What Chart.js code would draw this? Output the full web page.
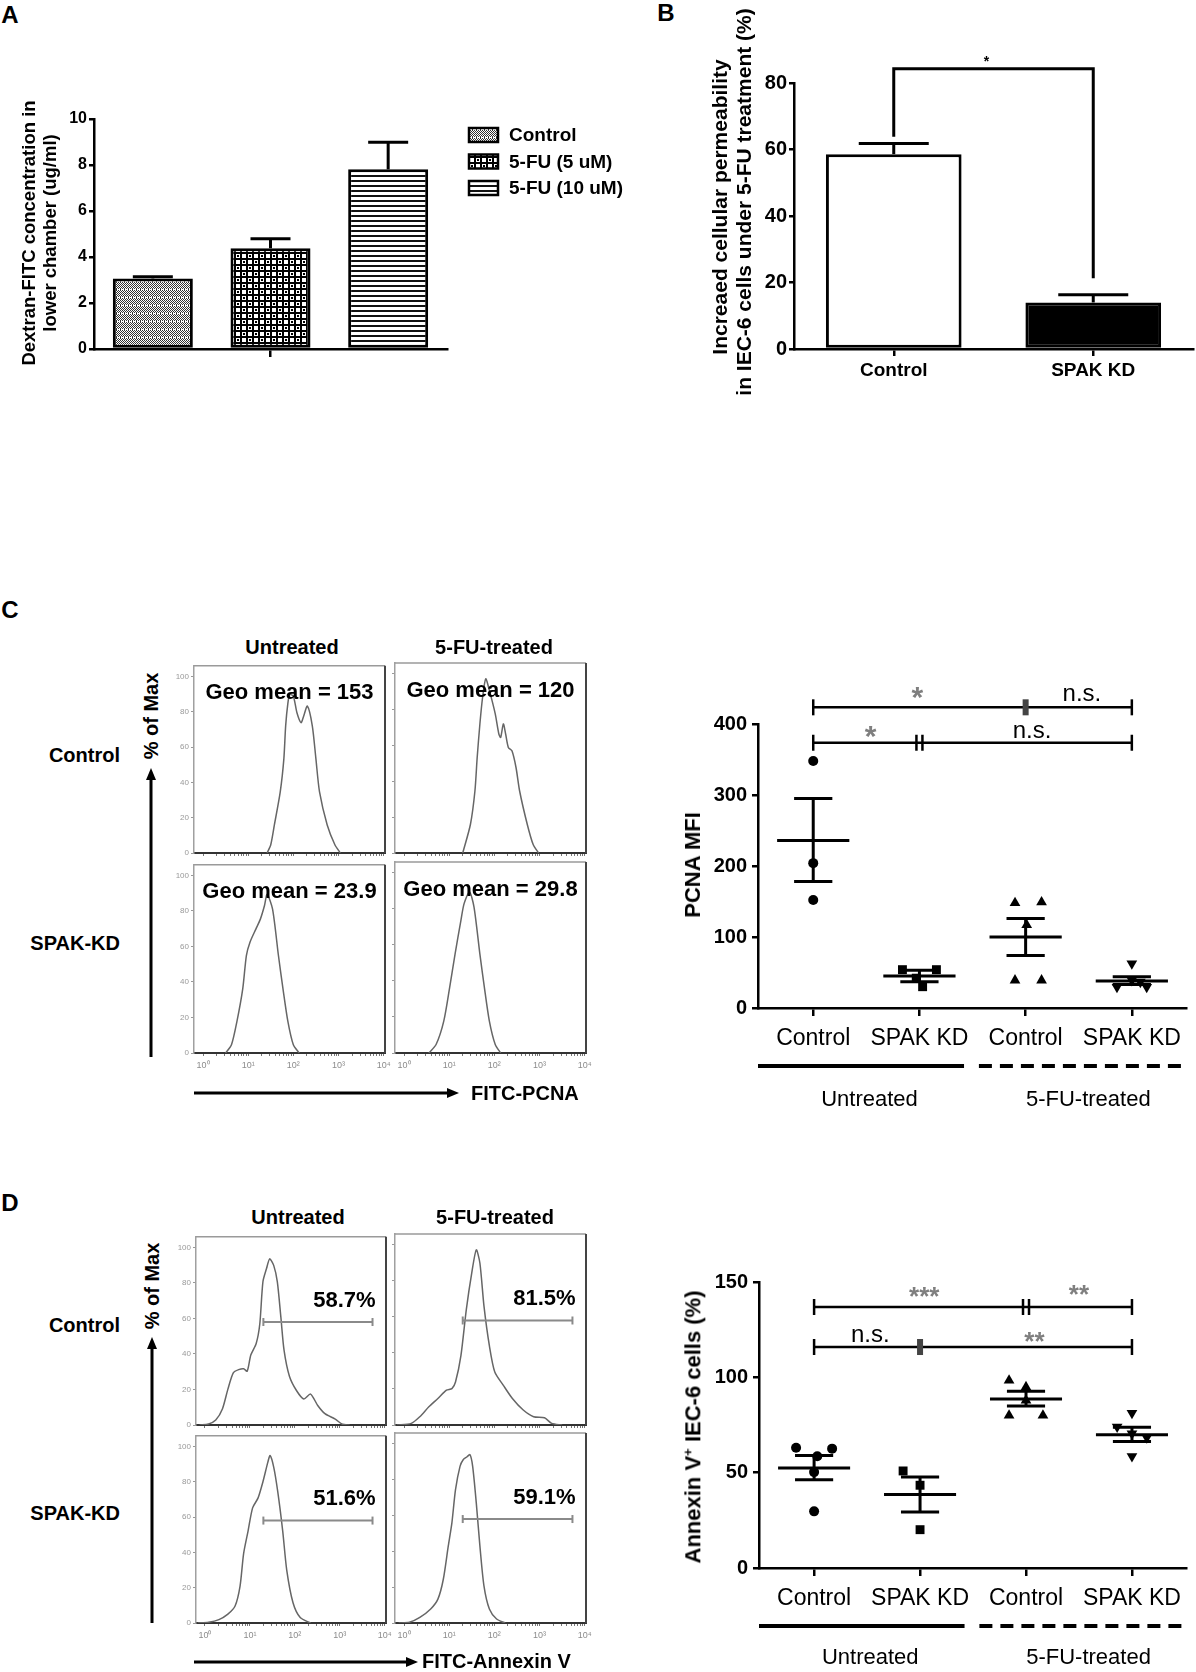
<!DOCTYPE html>
<html>
<head>
<meta charset="utf-8">
<script src="https://cdn.jsdelivr.net/npm/chart.js@4.4.1/dist/chart.umd.min.js"></script>
<style>
  body { margin: 0; background: #fff; }
  #fig { position: relative; width: 1196px; height: 1672px; overflow: hidden; background: #fff;
         font-family: "Liberation Sans", Arial, Helvetica, sans-serif; }
  #fig canvas { position: absolute; }
  .t { position: absolute; white-space: nowrap; line-height: 1; color: #000; }
</style>
</head>
<body>
<div id="fig"></div>
<script>
// figure panels A-D: permeability bars, PCNA / Annexin V flow histograms and dot plots

const FONT = '"Liberation Sans", Arial, Helvetica, sans-serif';

// ---------- A: Dextran-FITC ----------
const aGroups = ['Control', '5-FU (5 uM)', '5-FU (10 uM)'];
const aMeans = [3.07, 4.38, 7.81];
const aErrTop = [3.14, 4.79, 8.99];

// ---------- B: permeability ----------
const bGroups = ['Control', 'SPAK KD'];
const bMeans = [58.6, 14.0];
const bErrTop = [61.8, 16.3];
const bBracketTop = 84.3;
const bBracketFeet = [63.8, 21.3];
const bStarY = 87.5;

// ---------- C: PCNA histograms (x = log10 FITC, y = % of max) ----------
const histPcnaCtrlUntr = [[1.42,0],[1.5,4.7],[1.58,15.9],[1.71,34.6],[1.79,53.3],[1.83,72],[1.88,85],[1.92,89.7],[2.0,88.8],[2.08,79.4],[2.17,73.8],[2.23,77.6],[2.31,83.2],[2.42,72],[2.5,53.3],[2.58,34.6],[2.75,15.9],[2.92,4.7],[3.04,0]];
const histPcnaCtrl5fu = [[1.3,0],[1.47,15.9],[1.57,34.6],[1.62,53.3],[1.68,72],[1.74,86.9],[1.81,97.2],[1.89,90.7],[2.02,77.6],[2.1,66.4],[2.14,64.5],[2.2,72],[2.25,66.4],[2.31,58.9],[2.39,57],[2.48,47.7],[2.56,34.6],[2.73,15.9],[2.86,4.7],[2.98,0]];
const histPcnaKdUntr = [[0.5,0],[0.63,4.7],[0.75,17.7],[0.88,36.3],[0.96,54.9],[1.04,62.4],[1.17,69.8],[1.27,75.4],[1.36,82.9],[1.42,89.4],[1.54,81],[1.67,54.9],[1.77,36.3],[1.88,17.7],[2.0,4.7],[2.13,0]];
const histPcnaKd5fu = [[0.55,0],[0.71,4.7],[0.88,17.7],[1.01,36.3],[1.13,54.9],[1.26,73.6],[1.33,82.9],[1.45,89.4],[1.55,81],[1.68,54.9],[1.78,36.3],[1.89,17.7],[2.02,4.7],[2.14,0]];
const pcnaGeoMeans = ['Geo mean = 153', 'Geo mean = 120', 'Geo mean = 23.9', 'Geo mean = 29.8'];

// ---------- D: Annexin V histograms ----------
const histAnnexCtrlUntr = [[-0.12,0],[0.08,0.6],[0.24,2.8],[0.39,9.2],[0.51,20.2],[0.63,29.4],[0.75,31.2],[0.86,31.7],[0.94,30.3],[1.02,39.4],[1.14,45.9],[1.22,56.9],[1.29,80.7],[1.37,88.1],[1.44,93.6],[1.53,89.9],[1.61,80.7],[1.69,60.6],[1.76,42.2],[1.88,27.5],[2.04,19.3],[2.2,14.7],[2.35,17.4],[2.51,11],[2.67,6.4],[2.9,3.3],[3.06,0.4],[3.22,0]];
const histAnnexCtrl5fu = [[-0.16,0],[0.16,0.9],[0.35,4.6],[0.55,10.1],[0.75,14.7],[0.94,19.3],[1.06,20.2],[1.14,23.9],[1.26,38.5],[1.38,64.2],[1.5,84.4],[1.6,97.2],[1.68,89.9],[1.77,66.1],[1.89,44],[2.01,29.4],[2.2,22],[2.4,14.7],[2.64,8.3],[2.87,4.6],[3.11,4],[3.27,0.9],[3.5,0]];
const histAnnexKdUntr = [[-0.16,0],[0.08,0.4],[0.31,1.9],[0.51,5],[0.67,9.6],[0.78,20.7],[0.86,39.3],[0.96,52.2],[1.06,65.2],[1.18,70.7],[1.29,80],[1.4,91.1],[1.45,94.8],[1.53,88.3],[1.62,74.4],[1.73,52.2],[1.82,30],[1.96,11.5],[2.12,3.1],[2.35,0]];
const histAnnexKd5fu = [[-0.12,0],[0.12,0.4],[0.35,3.1],[0.59,7.8],[0.75,13.3],[0.87,24.4],[0.98,43],[1.06,55.9],[1.14,74.4],[1.24,87.4],[1.31,91.1],[1.39,92.6],[1.46,93.9],[1.52,87.4],[1.6,67],[1.68,43],[1.77,20.7],[1.89,7.8],[2.05,2.2],[2.24,0]];
const annexPercents = ['58.7%', '81.5%', '51.6%', '59.1%'];
const annexGate = [1.3, 3.73];
const annexGateY = 58;

// ---------- C / D dot plots ----------
const catLabels = ['Control', 'SPAK KD', 'Control', 'SPAK KD'];
const groupLabels = ['Untreated', '5-FU-treated'];

const pcnaDotsCtrlUntr = [[1,348],[1,204],[1,152]];
const pcnaDotsKdUntr = [[1.84,54],[2.16,54],[1.97,42],[2.03,30]];
const pcnaDotsCtrl5fu = [[2.9,148],[3.15,149],[3.01,117],[2.9,39],[3.15,39]];
const pcnaDotsKd5fu = [[4.0,62.5],[3.86,29.6],[4.14,29.6],[4.0,39],[4.08,36.7]];
const pcnaMean = [236, 45, 100, 38];
const pcnaSemHi = [295, 53, 126, 44];
const pcnaSemLo = [178, 37, 74, 33];
const pcnaBrackets = [{ y: 423.5, at: [1, 3, 4], sep: 'block' }, { y: 373.6, at: [1, 2, 4], sep: 'double' }];
const pcnaSig = [{ t: '*', x: 1.98, y: 448 }, { t: 'n.s.', x: 3.53, y: 441 }, { t: '*', x: 1.54, y: 394 }, { t: 'n.s.', x: 3.06, y: 389 }];

const annexDotsCtrlUntr = [[0.83,63.1],[1.17,62.6],[1.03,58.6],[1,50.3],[1,29.7]];
const annexDotsKdUntr = [[1.84,50.9],[2,43.4],[2,20.1]];
const annexDotsCtrl5fu = [[2.84,98.4],[3,94.9],[3,87.9],[2.84,80],[3.16,80]];
const annexDotsKd5fu = [[4,81.3],[3.86,74],[4,70.5],[4.14,68.4],[4,58.6]];
const annexMean = [52.4, 38.6, 88.6, 69.9];
const annexSemHi = [59, 47.7, 92.7, 73.8];
const annexSemLo = [46.3, 29.4, 85, 66.4];
const annexBrackets = [{ y: 136.9, at: [1, 3, 4], sep: 'double' }, { y: 115.9, at: [1, 2, 4], sep: 'block' }];
const annexSig = [{ t: '***', x: 2.04, y: 145.6 }, { t: '**', x: 3.5, y: 147 }, { t: 'n.s.', x: 1.53, y: 122 }, { t: '**', x: 3.08, y: 122.5 }];

// ---------- helpers ----------
const fig = document.getElementById('fig');

function addCanvas(x, y, w, h) {
  const c = document.createElement('canvas');
  c.width = w; c.height = h;
  c.style.left = x + 'px'; c.style.top = y + 'px';
  c.style.width = w + 'px'; c.style.height = h + 'px';
  fig.appendChild(c);
  return c;
}

function txt(s, x, y, o = {}) {
  const d = document.createElement('div');
  d.className = 't';
  d.innerHTML = s;
  d.style.left = x + 'px';
  d.style.top = y + 'px';
  d.style.fontSize = (o.size || 20) + 'px';
  d.style.fontWeight = o.weight || 'bold';
  const ax = o.align === 'right' ? '-100%' : o.align === 'left' ? '0' : '-50%';
  d.style.transform = `translate(${ax}, -50%)` + (o.rot ? ' rotate(-90deg)' : '');
  fig.appendChild(d);
}

const svgNS = 'http://www.w3.org/2000/svg';
const svg = document.createElementNS(svgNS, 'svg');
svg.setAttribute('width', 1196);
svg.setAttribute('height', 1672);
svg.style.position = 'absolute';
svg.style.left = '0';
svg.style.top = '0';
fig.appendChild(svg);

function arrow(x1, y1, x2, y2) {
  const a = Math.atan2(y2 - y1, x2 - x1), L = 12, W = 5;
  const bx = x2 - L * Math.cos(a), by = y2 - L * Math.sin(a);
  const ln = document.createElementNS(svgNS, 'line');
  ln.setAttribute('x1', x1); ln.setAttribute('y1', y1);
  ln.setAttribute('x2', bx); ln.setAttribute('y2', by);
  ln.setAttribute('stroke', '#000'); ln.setAttribute('stroke-width', 3);
  svg.appendChild(ln);
  const p = document.createElementNS(svgNS, 'polygon');
  p.setAttribute('points', `${x2},${y2} ${bx + W * Math.sin(a)},${by - W * Math.cos(a)} ${bx - W * Math.sin(a)},${by + W * Math.cos(a)}`);
  p.setAttribute('fill', '#000');
  svg.appendChild(p);
}

function seg(ctx, x1, y1, x2, y2) {
  ctx.beginPath(); ctx.moveTo(x1, y1); ctx.lineTo(x2, y2); ctx.stroke();
}

const axisGrid = (len) => ({ drawOnChartArea: false, tickLength: len, lineWidth: 2.5, color: '#000' });
const axisBorder = { color: '#000', width: 2.5 };
const baseOpts = { responsive: false, animation: false, devicePixelRatio: 1, events: [] };
const noPlug = { legend: { display: false }, tooltip: { enabled: false } };

// ---------- A ----------
const cA = addCanvas(0, 90, 640, 300);
const gA = cA.getContext('2d');
function tile(kind) {
  const c = document.createElement('canvas');
  const g = c.getContext('2d');
  if (kind === 0) {
    // fine grey weave with lighter dotted rows
    c.width = 4; c.height = 8;
    g.fillStyle = '#fff'; g.fillRect(0, 0, 4, 8);
    g.fillStyle = '#333';
    for (let yy = 0; yy < 7; yy++) for (let xx = 0; xx < 4; xx++) if ((xx + yy) % 2 === 0) g.fillRect(xx, yy, 1, 1);
    g.fillRect(0, 7, 1, 1);
  } else if (kind === 1) {
    // open grid with a dot in alternate cells
    c.width = 12; c.height = 12;
    g.fillStyle = '#fff'; g.fillRect(0, 0, 12, 12);
    g.fillStyle = '#000';
    g.fillRect(0, 0, 12, 2); g.fillRect(0, 6, 12, 2);
    g.fillRect(0, 0, 2, 12); g.fillRect(6, 0, 2, 12);
    g.fillRect(3, 3, 2, 2); g.fillRect(9, 9, 2, 2);
  } else {
    // horizontal stripes
    c.width = 4; c.height = 5;
    g.fillStyle = '#fff'; g.fillRect(0, 0, 4, 5);
    g.fillStyle = '#111'; g.fillRect(0, 0, 4, 2);
  }
  return gA.createPattern(c, 'repeat');
}
const aFills = [tile(0), tile(1), tile(2)];

const errBars = (means, tops, capW) => ({
  id: 'errBars',
  afterDatasetsDraw(chart) {
    const { ctx, scales: { x, y } } = chart;
    ctx.save();
    ctx.strokeStyle = '#000'; ctx.lineWidth = 3;
    means.forEach((m, i) => {
      const px = x.getPixelForValue(i);
      seg(ctx, px, y.getPixelForValue(m), px, y.getPixelForValue(tops[i]));
      seg(ctx, px - capW / 2, y.getPixelForValue(tops[i]), px + capW / 2, y.getPixelForValue(tops[i]));
    });
    ctx.restore();
  }
});

const aLegend = {
  id: 'aLegend',
  afterDraw(chart) {
    const ctx = chart.ctx;
    ctx.save();
    aGroups.forEach((g, i) => {
      const cy = 45 + i * 26.5;
      ctx.fillStyle = aFills[i];
      ctx.fillRect(469, cy - 7, 29, 14);
      ctx.strokeStyle = '#000'; ctx.lineWidth = 2.5;
      ctx.strokeRect(469, cy - 7, 29, 14);
      ctx.fillStyle = '#000';
      ctx.font = `bold 19px ${FONT}`;
      ctx.textBaseline = 'middle';
      ctx.fillText(g, 509, cy + 1);
    });
    ctx.restore();
  }
};

new Chart(cA, {
  type: 'bar',
  data: {
    labels: aGroups,
    datasets: [{ data: aMeans, backgroundColor: aFills, borderColor: '#000', borderWidth: 3,
                 borderSkipped: false, categoryPercentage: 0.8, barPercentage: 0.85 }]
  },
  options: {
    ...baseOpts,
    layout: { autoPadding: false, padding: { top: 29, right: 193 } },
    plugins: noPlug,
    scales: {
      x: {
        ticks: { display: false },
        grid: { offset: false, drawOnChartArea: false, tickLength: 8, lineWidth: 2.5,
                color: (c) => (c.index === 1 ? '#000' : 'rgba(0,0,0,0)') },
        border: axisBorder,
        afterFit: (s) => { s.height = 41; }
      },
      y: {
        min: 0, max: 10,
        ticks: { stepSize: 2, color: '#000', padding: 2, font: { family: FONT, size: 16, weight: 'bold' } },
        grid: axisGrid(5), border: axisBorder,
        afterFit: (s) => { s.width = 94; }
      }
    }
  },
  plugins: [errBars(aMeans, aErrTop, 40), aLegend]
});

// ---------- B ----------
const cB = addCanvas(640, 30, 556, 370);
const bBracket = {
  id: 'bBracket',
  afterDraw(chart) {
    const { ctx, scales: { x, y } } = chart;
    const x0 = x.getPixelForValue(0), x1 = x.getPixelForValue(1), top = y.getPixelForValue(bBracketTop);
    ctx.save();
    ctx.strokeStyle = '#000'; ctx.lineWidth = 3;
    ctx.beginPath();
    ctx.moveTo(x0, y.getPixelForValue(bBracketFeet[0]));
    ctx.lineTo(x0, top); ctx.lineTo(x1, top);
    ctx.lineTo(x1, y.getPixelForValue(bBracketFeet[1]));
    ctx.stroke();
    ctx.fillStyle = '#000';
    ctx.font = `bold 14px ${FONT}`;
    ctx.textAlign = 'center'; ctx.textBaseline = 'alphabetic';
    ctx.fillText('*', (x0 + x1) / 2 - 7, y.getPixelForValue(bStarY) + 8);
    ctx.restore();
  }
};
new Chart(cB, {
  type: 'bar',
  data: {
    labels: bGroups,
    datasets: [{ data: bMeans, backgroundColor: ['#fff', '#000'], borderColor: '#000', borderWidth: 3,
                 borderSkipped: false, categoryPercentage: 0.8, barPercentage: 0.85 }]
  },
  options: {
    ...baseOpts,
    layout: { autoPadding: false, padding: { top: 53, right: 3 } },
    plugins: noPlug,
    scales: {
      x: {
        ticks: { color: '#000', padding: 3, font: { family: FONT, size: 19, weight: 'bold' } },
        grid: { offset: false, drawOnChartArea: false, tickLength: 7, lineWidth: 2.5, color: '#000' },
        border: axisBorder,
        afterFit: (s) => { s.height = 51; }
      },
      y: {
        min: 0, max: 80,
        ticks: { stepSize: 20, color: '#000', padding: 2, font: { family: FONT, size: 20, weight: 'bold' } },
        grid: axisGrid(5), border: axisBorder,
        afterFit: (s) => { s.width = 154; }
      }
    }
  },
  plugins: [errBars(bMeans, bErrTop, 70), bBracket]
});

// ---------- flow histograms ----------
const sup = ['\u2070', '\u00b9', '\u00b2', '\u00b3', '\u2074'];
const decades = [0, 1, 2, 3, 4];
const logTicks = [];
for (let n = 0; n < 4; n++) for (let k = 1; k < 10; k++) logTicks.push(n + Math.log10(k));
logTicks.push(4);

function histChart(box, pts, o) {
  const [x0, y0, x1, y1] = box;
  const cv = addCanvas(x0 - 24, y0 - 4, x1 - x0 + 32, y1 - y0 + 28);
  const deco = {
    id: 'deco',
    afterDraw(chart) {
      const { ctx, chartArea: a, scales: { x, y } } = chart;
      ctx.save();
      ctx.strokeStyle = '#9a9a9a'; ctx.lineWidth = 1.5;
      seg(ctx, a.left, a.top, a.right, a.top);
      ctx.strokeStyle = '#444'; ctx.lineWidth = 2;
      seg(ctx, a.right, a.top, a.right, a.bottom);
      if (o.xLabels) {
        ctx.fillStyle = '#8c8c8c';
        ctx.font = `9px ${FONT}`;
        ctx.textAlign = 'center'; ctx.textBaseline = 'middle';
        decades.forEach((d) => ctx.fillText('10' + sup[d], x.getPixelForValue(d), a.bottom + 13));
      }
      ctx.fillStyle = '#000';
      ctx.font = `bold 22px ${FONT}`;
      ctx.textBaseline = 'middle';
      if (o.geo) {
        ctx.textAlign = 'center';
        ctx.fillText(o.geo, (a.left + a.right) / 2, y.getPixelForValue(90.5));
      }
      if (o.pct) {
        ctx.strokeStyle = '#8a8a8a'; ctx.lineWidth = 2;
        const gy = y.getPixelForValue(annexGateY);
        const g0 = x.getPixelForValue(annexGate[0]), g1 = x.getPixelForValue(annexGate[1]);
        seg(ctx, g0, gy, g1, gy);
        seg(ctx, g0, gy - 4, g0, gy + 4);
        seg(ctx, g1, gy - 4, g1, gy + 4);
        ctx.textAlign = 'right';
        ctx.fillText(o.pct, x.getPixelForValue(3.8), y.getPixelForValue(70));
      }
      ctx.restore();
    }
  };
  new Chart(cv, {
    type: 'line',
    data: { datasets: [{ data: pts.map((p) => ({ x: p[0], y: p[1] })), borderColor: '#666',
                         borderWidth: 1.5, pointRadius: 0, tension: 0.25, fill: false }] },
    options: {
      ...baseOpts,
      layout: { autoPadding: false, padding: { top: 4, right: 8 } },
      plugins: noPlug,
      scales: {
        x: {
          type: 'linear', min: -0.2, max: 4.03,
          afterBuildTicks: (s) => { s.ticks = logTicks.map((v) => ({ value: v })); },
          ticks: { display: false },
          grid: { drawOnChartArea: false, tickLength: 3, lineWidth: 1, color: '#777' },
          border: { color: '#333', width: 2 },
          afterFit: (s) => { s.height = 24; }
        },
        y: {
          min: 0, max: 106,
          afterBuildTicks: (s) => { s.ticks = [0, 20, 40, 60, 80, 100].map((v) => ({ value: v })); },
          ticks: { display: o.yLabels, padding: 2, color: '#999', font: { family: FONT, size: 8 } },
          grid: { drawOnChartArea: false, tickLength: 3, lineWidth: 1, color: '#999' },
          border: { color: '#a0a0a0', width: 1.5, dash: [2, 2] },
          afterFit: (s) => { s.width = 24; }
        }
      }
    },
    plugins: [deco]
  });
}

histChart([194, 663, 385, 853], histPcnaCtrlUntr, { geo: pcnaGeoMeans[0], yLabels: true, xLabels: false });
histChart([395, 663, 586, 853], histPcnaCtrl5fu, { geo: pcnaGeoMeans[1], yLabels: false, xLabels: false });
histChart([194, 862, 385, 1053], histPcnaKdUntr, { geo: pcnaGeoMeans[2], yLabels: true, xLabels: true });
histChart([395, 862, 586, 1053], histPcnaKd5fu, { geo: pcnaGeoMeans[3], yLabels: false, xLabels: true });

histChart([196, 1234, 386, 1425], histAnnexCtrlUntr, { pct: annexPercents[0], yLabels: true, xLabels: false });
histChart([395, 1234, 586, 1425], histAnnexCtrl5fu, { pct: annexPercents[1], yLabels: false, xLabels: false });
histChart([196, 1433, 386, 1623], histAnnexKdUntr, { pct: annexPercents[2], yLabels: true, xLabels: true });
histChart([395, 1433, 586, 1623], histAnnexKd5fu, { pct: annexPercents[3], yLabels: false, xLabels: true });

// ---------- dot plots ----------
const markStyle = ['circle', 'rect', 'triangle', 'triangle'];
const markRot = [0, 0, 0, 180];
const markSize = [5, 6.3, 6.2, 6.2];

function dotPlot(cv, o) {
  const meanSem = {
    id: 'meanSem',
    afterDatasetsDraw(chart) {
      const { ctx, scales: { x, y } } = chart;
      ctx.save();
      ctx.strokeStyle = '#000'; ctx.lineWidth = 3;
      o.means.forEach((m, i) => {
        const c = i + 1, X = (v) => x.getPixelForValue(v);
        const ym = y.getPixelForValue(m), yh = y.getPixelForValue(o.hi[i]), yl = y.getPixelForValue(o.lo[i]);
        seg(ctx, X(c - 0.34), ym, X(c + 0.34), ym);
        seg(ctx, X(c), yh, X(c), yl);
        seg(ctx, X(c - 0.18), yh, X(c + 0.18), yh);
        seg(ctx, X(c - 0.18), yl, X(c + 0.18), yl);
      });
      ctx.restore();
    }
  };
  const extras = {
    id: 'extras',
    afterDraw(chart) {
      const { ctx, chartArea: a, scales: { x, y } } = chart;
      ctx.save();
      ctx.strokeStyle = '#000'; ctx.lineWidth = 2.5;
      o.brackets.forEach((b) => {
        const py = y.getPixelForValue(b.y);
        const xs = b.at.map((v) => x.getPixelForValue(v));
        seg(ctx, xs[0], py, xs[2], py);
        seg(ctx, xs[0], py - 8, xs[0], py + 8);
        seg(ctx, xs[2], py - 8, xs[2], py + 8);
        if (b.sep === 'double') {
          seg(ctx, xs[1] - 3, py - 8, xs[1] - 3, py + 8);
          seg(ctx, xs[1] + 3, py - 8, xs[1] + 3, py + 8);
        } else {
          ctx.fillStyle = '#444';
          ctx.fillRect(xs[1] - 3, py - 8, 6, 16);
        }
      });
      ctx.textAlign = 'center'; ctx.textBaseline = 'alphabetic';
      o.sig.forEach((s) => {
        const px = x.getPixelForValue(s.x), py = y.getPixelForValue(s.y);
        if (s.t.startsWith('*')) {
          ctx.fillStyle = '#7f7f7f';
          ctx.font = `bold ${o.starSize}px ${FONT}`;
          ctx.fillText(s.t, px, py + 0.58 * o.starSize);
        } else {
          ctx.fillStyle = '#000';
          ctx.font = `24px ${FONT}`;
          ctx.fillText(s.t, px, py + 0.27 * 24);
        }
      });
      // group underline and names
      const yl = a.bottom + 58;
      ctx.lineWidth = 4;
      seg(ctx, a.left, yl, x.getPixelForValue(2.42), yl);
      ctx.setLineDash([13, 8]);
      seg(ctx, x.getPixelForValue(2.56), yl, a.right, yl);
      ctx.setLineDash([]);
      ctx.fillStyle = '#000';
      ctx.font = `22px ${FONT}`;
      ctx.textBaseline = 'middle';
      ctx.fillText(groupLabels[0], x.getPixelForValue(1.53), a.bottom + o.groupDy);
      ctx.fillText(groupLabels[1], x.getPixelForValue(3.59), a.bottom + o.groupDy);
      ctx.restore();
    }
  };
  new Chart(cv, {
    type: 'scatter',
    data: {
      datasets: o.points.map((pts, i) => ({
        data: pts.map((p) => ({ x: p[0], y: p[1] })),
        pointStyle: markStyle[i], rotation: markRot[i], pointRadius: markSize[i],
        backgroundColor: '#000', borderColor: '#000', borderWidth: 0, clip: false
      }))
    },
    options: {
      ...baseOpts,
      layout: { autoPadding: false, padding: { top: o.padTop, right: o.padRight } },
      plugins: noPlug,
      scales: {
        x: {
          type: 'linear', min: 0.48, max: 4.51,
          afterBuildTicks: (s) => { s.ticks = [1, 2, 3, 4].map((v) => ({ value: v })); },
          ticks: { autoSkip: false, maxRotation: 0, padding: 9, color: '#000',
                   font: { family: FONT, size: 23 }, callback: (v) => catLabels[v - 1] },
          grid: axisGrid(8), border: axisBorder,
          afterFit: (s) => { s.height = o.xH; }
        },
        y: {
          min: 0, max: o.yMax,
          afterBuildTicks: (s) => { s.ticks = o.yTicks.map((v) => ({ value: v })); },
          ticks: { color: '#000', padding: 5, font: { family: FONT, size: 20, weight: 'bold' } },
          grid: axisGrid(6), border: axisBorder,
          afterFit: (s) => { s.width = o.yW; }
        }
      }
    },
    plugins: [meanSem, extras]
  });
}

dotPlot(addCanvas(640, 600, 556, 520), {
  points: [pcnaDotsCtrlUntr, pcnaDotsKdUntr, pcnaDotsCtrl5fu, pcnaDotsKd5fu],
  means: pcnaMean, hi: pcnaSemHi, lo: pcnaSemLo,
  brackets: pcnaBrackets, sig: pcnaSig, starSize: 30,
  yMax: 400, yTicks: [0, 100, 200, 300, 400],
  padTop: 124, padRight: 10, xH: 112, yW: 118, groupDy: 92
});

dotPlot(addCanvas(640, 1180, 556, 492), {
  points: [annexDotsCtrlUntr, annexDotsKdUntr, annexDotsCtrl5fu, annexDotsKd5fu],
  means: annexMean, hi: annexSemHi, lo: annexSemLo,
  brackets: annexBrackets, sig: annexSig, starSize: 26,
  yMax: 150, yTicks: [0, 50, 100, 150],
  padTop: 102, padRight: 10, xH: 104, yW: 119, groupDy: 90
});

// ---------- static text and arrows ----------
txt('A', 10, 15, { size: 24 });
txt('B', 666, 13, { size: 24 });
txt('C', 10, 610, { size: 24 });
txt('D', 10, 1203, { size: 24 });

txt('Dextran-FITC concentration in', 29, 233, { size: 18.5, rot: true });
txt('lower chamber (ug/ml)', 50, 233, { size: 18.5, rot: true });

txt('Increaed cellular permeability', 719, 207, { size: 21, rot: true });
txt('in IEC-6 cells under 5-FU treatment (%)', 743, 202, { size: 21, rot: true });

txt('Untreated', 292, 647);
txt('5-FU-treated', 494, 647);
txt('Control', 120, 755, { align: 'right' });
txt('SPAK-KD', 120, 943, { align: 'right' });
txt('% of Max', 151, 716, { rot: true });
txt('FITC-PCNA', 471, 1093, { align: 'left' });
txt('PCNA MFI', 693, 865, { size: 22, rot: true });

txt('Untreated', 298, 1217);
txt('5-FU-treated', 495, 1217);
txt('Control', 120, 1325, { align: 'right' });
txt('SPAK-KD', 120, 1513, { align: 'right' });
txt('% of Max', 152, 1286, { rot: true });
txt('FITC-Annexin V', 422, 1661, { align: 'left' });
txt('Annexin V<sup style="font-size:60%">+</sup> IEC-6 cells (%)', 693, 1427, { size: 22, rot: true });

arrow(151, 1057, 151, 768);
arrow(194, 1093, 459, 1093);
arrow(152, 1623, 152, 1337);
arrow(194, 1662, 418, 1662);
</script>
</body>
</html>
